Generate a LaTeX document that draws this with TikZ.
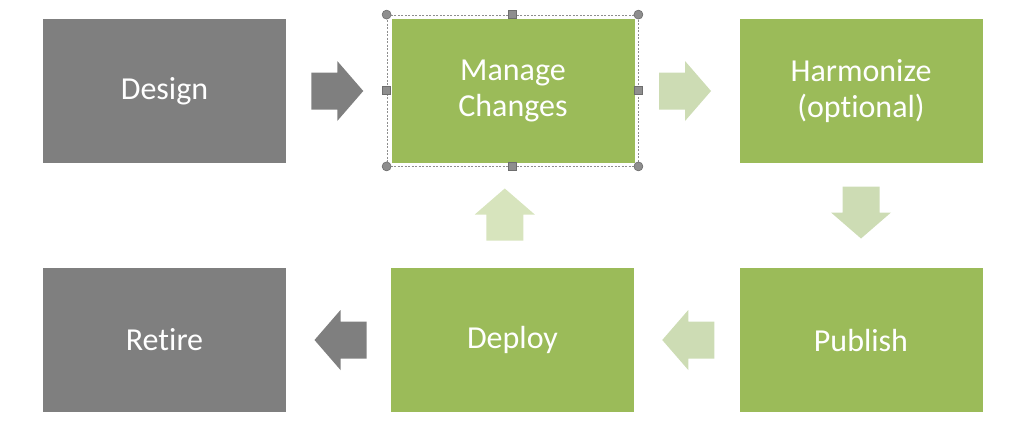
\documentclass[tikz,border=0pt]{standalone}
\usepackage{fontspec}
\setmainfont{Carlito}[Ligatures=NoCommon]
\usetikzlibrary{calc}

\definecolor{stepgray}{HTML}{7F7F7F}
\definecolor{stepgreen}{HTML}{9BBB59}
\definecolor{arrowgreen}{HTML}{CDDCB4}
\definecolor{arrowpale}{HTML}{D7E4BD}
\definecolor{handlegray}{HTML}{8E8E8E}
\definecolor{handleedge}{HTML}{6E6E6E}

\tikzset{
  stepbox/.style={minimum width=243pt, minimum height=144pt, inner sep=0pt,
    text=white, align=center, font=\fontsize{32}{36}\selectfont},
  selframe/.style={draw=handlegray, dash pattern=on 2pt off 1.5pt, line width=0.8pt,
    minimum width=251pt, minimum height=151pt, inner sep=0pt},
  handledot/.style={fill=handlegray, draw=handleedge, line width=0.6pt},
  handlebox/.style={handledot, minimum size=8pt, inner sep=0pt},
  blockarrow/.pic={
    \path[pic actions] (-26,-18.5) -- (0,-18.5) -- (0,-30) -- (26,0)
      -- (0,30) -- (0,18.5) -- (-26,18.5) -- cycle;
  }
}

\begin{document}
\begin{tikzpicture}[x=1pt,y=1pt]
  \useasboundingbox (0,0) rectangle (1024,-432);

  % lifecycle steps
  \foreach \n/\x/\y/\c/\t in {design/164.5/91/stepgray/Design,
                              manage/513/91/stepgreen/Manage\\Changes,
                              harmonize/861/91/stepgreen/Harmonize\\(optional),
                              retire/164.5/340/stepgray/Retire,
                              deploy/512.5/340/stepgreen/Deploy,
                              publish/861/340/stepgreen/Publish} {
    \node[stepbox, fill=\c] (\n) at (\x,-\y) {\t};
  }

  % block arrows
  \pic[fill=stepgray] at ($(design.east)!0.5!(manage.west)+(-1.5,0)$) {blockarrow};
  \pic[fill=arrowgreen] at ($(manage.east)!0.5!(harmonize.west)+(-2,0)$) {blockarrow};
  \pic[fill=arrowgreen, rotate=-90] at ($(harmonize.south)!0.5!(publish.north)+(0,3)$) {blockarrow};
  \pic[fill=arrowgreen, rotate=180] at ($(publish.west)!0.5!(deploy.east)+(1.5,0)$) {blockarrow};
  \pic[fill=stepgray, rotate=180] at ($(deploy.west)!0.5!(retire.east)+(2,0)$) {blockarrow};
  \pic[fill=arrowpale, rotate=90] at ($(deploy.north)!0.5!(manage.south)+(-8,1)$) {blockarrow};

  % selection handles
  \node[selframe] (sel) at ($(manage.center)+(-0.5,0.5)$) {};
  \foreach \a in {north west, north east, south west, south east} {
    \fill[handledot] (sel.\a) circle (4.5);
  }
  \foreach \a in {north, south, east, west} {
    \node[handlebox] at (sel.\a) {};
  }
\end{tikzpicture}
\end{document}
